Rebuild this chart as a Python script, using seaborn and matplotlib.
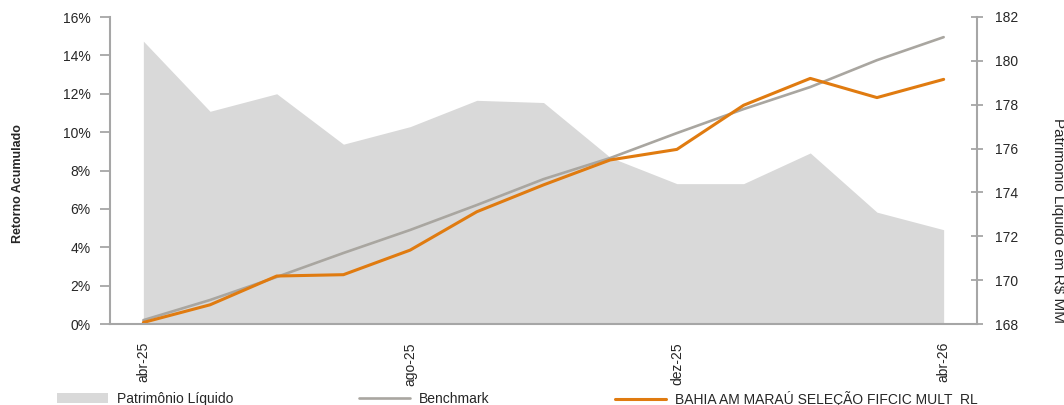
import matplotlib
matplotlib.use("Agg")
import matplotlib.pyplot as plt
import seaborn as sns
import pandas as pd
from matplotlib.patches import Patch
from matplotlib.lines import Line2D
from matplotlib.ticker import FixedLocator, PercentFormatter

sns.set_theme(style="white")
plt.rcParams['font.family'] = ['Liberation Sans', 'DejaVu Sans']

# dados
meses = ['abr-25', 'mai-25', 'jun-25', 'jul-25', 'ago-25', 'set-25', 'out-25',
         'nov-25', 'dez-25', 'jan-26', 'fev-26', 'mar-26', 'abr-26']
rotulos_x = ['abr-25', 'ago-25', 'dez-25', 'abr-26']
patrimonio = [180.9, 177.7, 178.5, 176.2, 177.0, 178.2, 178.1,
              175.6, 174.4, 174.4, 175.8, 173.1, 172.3]
benchmark = [0.2, 1.25, 2.45, 3.7, 4.9, 6.2, 7.55, 8.65, 9.95, 11.2, 12.35, 13.75, 14.95]
fundo = [0.08, 1.0, 2.5, 2.57, 3.85, 5.85, 7.25, 8.55, 9.1, 11.4, 12.8, 11.8, 12.75]

COR_AREA = '#D9D9D9'
COR_BENCH = '#A9A6A0'
COR_FUNDO = '#E07B10'
COR_EIXO = '#A6A6A6'

df = pd.DataFrame({'pos': range(len(meses)), 'mes': meses,
                   'pl': patrimonio, 'bench': benchmark, 'fundo': fundo})

fig = plt.figure(figsize=(10.64, 4.05), dpi=100)
ax = fig.add_axes([110 / 1064, 1 - 324 / 405, (977 - 110) / 1064, (324 - 17) / 405])
ax2 = ax.twinx()

# área do patrimônio no eixo direito
ax2.fill_between(df['pos'], 168, df['pl'], color=COR_AREA, linewidth=0)
ax2.set_ylim(168, 182)
ax2.set_yticks(range(168, 183, 2))

# linhas no eixo esquerdo
sns.lineplot(data=df, x='pos', y='bench', ax=ax, color=COR_BENCH, linewidth=1.9)
sns.lineplot(data=df, x='pos', y='fundo', ax=ax, color=COR_FUNDO, linewidth=2.2)
ax.set_zorder(ax2.get_zorder() + 1)
ax.patch.set_visible(False)

ax.set_ylim(0, 16)
ax.set_yticks(range(0, 17, 2))
ax.yaxis.set_major_formatter(PercentFormatter(decimals=0))
ax.set_xlim(-0.5, len(meses) - 0.5)

# marcas entre categorias, rótulos a cada 4 meses
ax.xaxis.set_major_locator(FixedLocator([i - 0.5 for i in range(len(meses) + 1)]))
ax.set_xticklabels([''] * (len(meses) + 1))
ax.xaxis.set_minor_locator(FixedLocator([meses.index(m) for m in rotulos_x]))
ax.set_xticklabels(rotulos_x, minor=True, rotation=90, fontsize=10)
ax.tick_params(axis='x', which='major', length=6, width=1.3, color=COR_EIXO, direction='out')
ax.tick_params(axis='x', which='minor', length=0, pad=13)
ax.tick_params(axis='y', length=7, width=1.3, color=COR_EIXO, direction='out', pad=7,
               labelsize=10, left=True)
ax2.tick_params(axis='y', length=8, width=1.3, color=COR_EIXO, direction='inout', pad=9,
                labelsize=10, right=True)
ax.set_xlabel('')
ax.set_ylabel('')
ax2.set_ylabel('')

for a in (ax, ax2):
    for s in a.spines.values():
        s.set_color(COR_EIXO)
        s.set_linewidth(1.5)
    a.spines['top'].set_visible(False)
ax.spines['right'].set_visible(False)
ax2.spines['left'].set_visible(False)
ax2.spines['bottom'].set_visible(False)

fig.text(18 / 1064, 1 - 184 / 405, 'Retorno Acumulado', rotation=90, fontsize=9,
         fontweight='bold', ha='center', va='center')
fig.text(1058 / 1064, 1 - 221 / 405, 'Patrimonio Liquido em R$ MM', rotation=270,
         fontsize=11, ha='center', va='center')

# legenda
itens = [
    (Patch(facecolor=COR_AREA, edgecolor='none'), 'Patrimônio Líquido', 57),
    (Line2D([], [], color=COR_BENCH, linewidth=1.9), 'Benchmark', 359),
    (Line2D([], [], color=COR_FUNDO, linewidth=2.2), 'BAHIA AM MARAÚ SELEÇÃO FIFCIC MULT  RL', 615),
]
for h, txt, x in itens:
    fig.legend(handles=[h], labels=[txt], loc='center left',
               bbox_to_anchor=(x / 1064, 1 - 399 / 405), frameon=False, fontsize=10,
               borderpad=0, borderaxespad=0, handlelength=3.65, handletextpad=0.65)

fig.savefig('out.png', dpi=100)
